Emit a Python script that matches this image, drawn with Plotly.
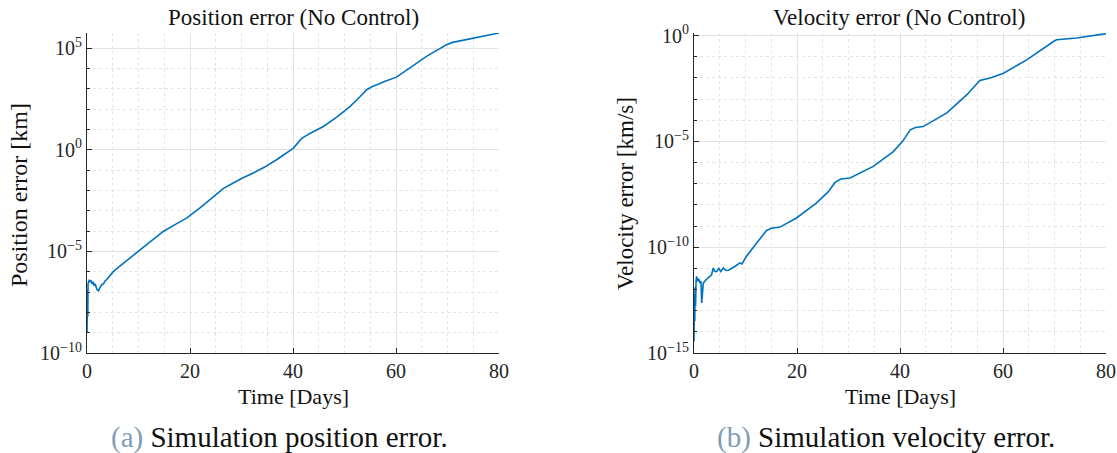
import plotly.graph_objects as go

# ---- data ----
pos_days = [0.00, 0.03, 0.06, 0.10, 0.15, 0.20, 0.30, 0.45, 0.6, 0.8, 1.0, 1.2, 1.4, 1.6, 1.9, 2.2, 2.5, 2.85,
            3.2, 3.5, 3.8, 4.4, 5.1, 6.5, 8.0, 10.3, 12.5, 14.8, 17.0, 19.4, 22.0, 24.5, 26.5, 27.8, 30.0,
            32.3, 34.5, 36.8, 38.5, 40.1, 41.5, 42.3, 44.0, 45.9, 48.5, 51.1, 53.0, 54.3, 55.5, 56.3, 58.0,
            60.1, 62.0, 64.0, 66.0, 68.0, 69.8, 71.0, 71.8, 73.5, 75.0, 77.5, 80.0]
pos_err = [1.0e-9, 6.3e-8, 2.5e-9, 1.26e-7, 6.3e-9, 2.5e-7, 3.2e-7, 4.0e-7, 3.3e-7, 3.5e-7, 2.5e-7, 3.2e-7,
           2.0e-7, 2.5e-7, 1.4e-7, 1.15e-7, 1.6e-7, 2.3e-7, 2.5e-7, 3.5e-7, 4.0e-7, 6.3e-7, 1.0e-6, 2.0e-6,
           4.0e-6, 1.2e-5, 3.5e-5, 9.5e-5, 2.0e-4, 4.4e-4, 1.4e-3, 5.0e-3, 1.26e-2, 1.9e-2, 3.8e-2, 7.1e-2,
           0.14, 0.32, 0.63, 1.2, 3.2, 4.5, 7.9, 13.8, 40, 135, 400, 890, 1320, 1550, 2400, 3700, 7900,
           1.8e4, 4.0e4, 7.9e4, 1.45e5, 1.9e5, 2.1e5, 2.6e5, 3.1e5, 4.0e5, 5.5e5]

vel_days = [0.00, 0.03, 0.06, 0.10, 0.15, 0.22, 0.30, 0.40, 0.5, 0.7, 0.9, 1.17, 1.35, 1.5, 1.65, 1.8, 2.3,
            3.1, 3.4, 3.75, 4.0, 4.4, 4.8, 5.2, 5.7, 6.2, 6.7, 8.0, 8.9, 9.3, 10.2, 12.2, 14.1, 15.0, 16.7,
            19.9, 23.8, 26.0, 27.4, 28.5, 30.3, 34.8, 38.7, 40.5, 42.0, 43.0, 44.5, 49.1, 53.0, 55.5, 57.5,
            60.1, 64.6, 69.8, 70.4, 74.3, 77.0, 80.0]
vel_err = [3.5e-15, 3.2e-13, 1.0e-14, 6.3e-13, 3.2e-14, 1.26e-12, 1.6e-13, 2.5e-12, 4.2e-12, 2.5e-12, 3.2e-12,
           2.0e-12, 2.5e-12, 2.3e-13, 1.26e-12, 2.0e-12, 2.8e-12, 4.2e-12, 5.0e-12, 1.05e-11, 7.1e-12, 7.2e-12,
           1.0e-11, 7.1e-12, 1.05e-11, 7.9e-12, 8.1e-12, 1.26e-11, 1.8e-11, 1.6e-11, 3.7e-11, 1.6e-10, 6.2e-10,
           7.9e-10, 8.9e-10, 2.4e-9, 1.23e-8, 4.0e-8, 1.15e-7, 1.66e-7, 1.86e-7, 6.6e-7, 3.3e-6, 1.0e-5, 3.5e-5,
           4.5e-5, 5.0e-5, 2.2e-4, 1.6e-3, 7.6e-3, 9.8e-3, 1.66e-2, 7.1e-2, 0.52, 0.63, 0.76, 0.93, 1.23]

x_ticks = [0, 20, 40, 60, 80]
x_minor = [5, 10, 15, 25, 30, 35, 45, 50, 55, 65, 70, 75]
pos_yticks = [1e-10, 1e-5, 1e0, 1e5]
pos_ytext = ["10<sup>−10</sup>", "10<sup>−5</sup>", "10<sup>0</sup>", "10<sup>5</sup>"]
vel_yticks = [1e-15, 1e-10, 1e-5, 1e0]
vel_ytext = ["10<sup>−15</sup>", "10<sup>−10</sup>", "10<sup>−5</sup>", "10<sup>0</sup>"]
pos_yminor = [10.0 ** k for k in range(-10, 6)]
vel_yminor = [10.0 ** k for k in range(-15, 1)]

FONT = "Liberation Serif"
LINE = "#0072BD"

fig = go.Figure()
fig.add_trace(go.Scatter(x=pos_days, y=pos_err, mode="lines", line=dict(color=LINE, width=1.6),
                         xaxis="x", yaxis="y", showlegend=False))
fig.add_trace(go.Scatter(x=vel_days, y=vel_err, mode="lines", line=dict(color=LINE, width=1.6),
                         xaxis="x2", yaxis="y2", showlegend=False))

def xax(domain, anchor):
    return dict(domain=domain, anchor=anchor, range=[0, 80], tickmode="array", tickvals=x_ticks,
                ticks="inside", ticklen=5, tickcolor="#262626", showline=True, linecolor="#262626",
                linewidth=1, mirror=False, showgrid=True, gridcolor="#e3e3e3", gridwidth=1,
                zeroline=False, automargin=False, ticklabeloverflow="allow",
                tickfont=dict(family=FONT, size=20, color="#262626"),
                minor=dict(tickmode="array", tickvals=x_minor, showgrid=True, gridcolor="#e4e4e4",
                           griddash="dot", gridwidth=1, ticks=""))

def yax(domain, anchor, rng, tv, tt, mv):
    return dict(domain=domain, anchor=anchor, type="log", range=rng, tickmode="array", tickvals=tv,
                ticktext=tt, ticks="inside", ticklen=5, tickcolor="#262626", showline=True,
                linecolor="#262626", linewidth=1, showgrid=True, gridcolor="#e3e3e3", gridwidth=1,
                zeroline=False, automargin=False, ticklabeloverflow="allow",
                tickfont=dict(family=FONT, size=20, color="#262626"),
                minor=dict(tickmode="array", tickvals=mv, showgrid=True, gridcolor="#e4e4e4",
                           griddash="dot", gridwidth=1, ticks="inside", ticklen=3, tickcolor="#262626"))

W, H = 1117, 453
def px(x):
    return x / W
def py(y):
    return 1 - y / H

ydom = [py(353), py(33)]
fig.update_layout(
    width=W, height=H, margin=dict(l=0, r=0, t=0, b=0, autoexpand=False),
    paper_bgcolor="white", plot_bgcolor="white",
    xaxis=xax([px(87), px(499)], "y"),
    yaxis=yax(ydom, "x", [-10, 5.74], pos_yticks, pos_ytext, pos_yminor),
    xaxis2=xax([px(694), px(1106)], "y2"),
    yaxis2=yax(ydom, "x2", [-15, 0.12], vel_yticks, vel_ytext, vel_yminor),
)

def text(x, y, s, size, angle=0):
    fig.add_annotation(x=px(x), y=py(y), xref="paper", yref="paper", text=s, showarrow=False,
                       textangle=angle, font=dict(family=FONT, size=size, color="#111111"),
                       xanchor="center", yanchor="middle", borderpad=0)

text(293, 18, "Position error (No Control)", 23)
text(899, 18, "Velocity error (No Control)", 23)
text(293, 396, "Time [Days]", 22)
text(900, 396, "Time [Days]", 22)
text(19, 195, "Position error [km]", 24, -90)
text(626, 194, "Velocity error [km/s]", 23, -90)
text(279, 437, "<span style='color:#7f9cba'>(a)</span> Simulation position error.", 29)
text(886, 437, "<span style='color:#7f9cba'>(b)</span> Simulation velocity error.", 29)

# remove the browser's default 8px body margin so the figure fills the window exactly
fig.write_html("out.html", config={"displayModeBar": False},
               post_script="document.body.style.margin='0';document.body.style.overflow='hidden';")
